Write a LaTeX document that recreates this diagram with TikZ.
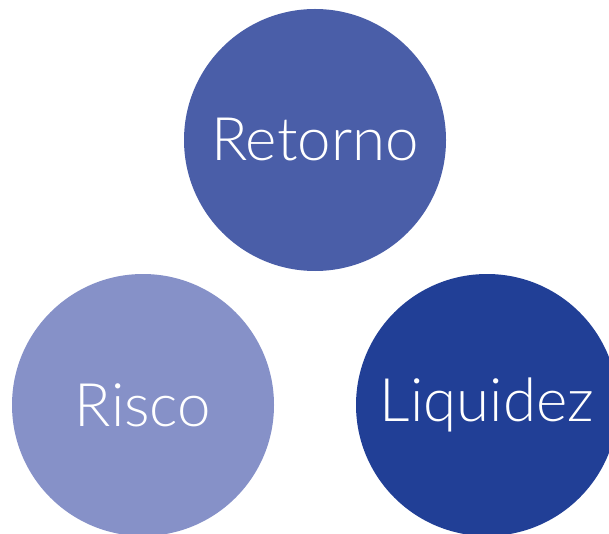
\documentclass[tikz,border=0pt]{standalone}
\usepackage{fontspec}
\setmainfont{Lato}[UprightFont=* Light]
\definecolor{cRet}{HTML}{4A5EA8}
\definecolor{cRis}{HTML}{8691C8}
\definecolor{cLiq}{HTML}{213F96}
\begin{document}
\begin{tikzpicture}[x=1pt,y=1pt,
  bubble/.style={circle, minimum size=262pt, inner sep=0pt, text=white, font=\fontsize{60}{70}\selectfont}]
\useasboundingbox (0,0) rectangle (609,533);
\clip (0,0) rectangle (609,533);
\node[bubble, fill=cRet] (ret) at (315,393) {Retorno};
\node[bubble, fill=cRis] (ris) at (143,128) {Risco};
\node[bubble, fill=cLiq] (liq) at (487,128) {Liquidez};
\end{tikzpicture}
\end{document}
